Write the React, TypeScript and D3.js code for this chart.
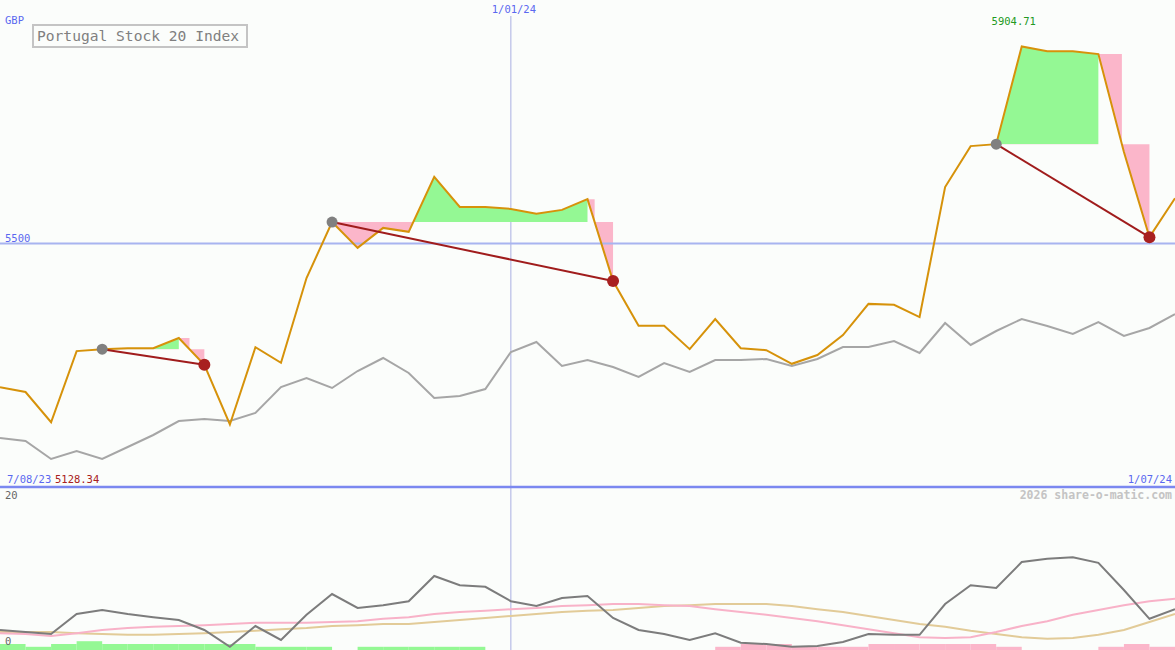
import React from "react";
import * as d3 from "d3";

// ---- data ----
const title = "Portugal Stock 20 Index";
const currency = "GBP";
const refLevel = 5500;
const dateTicks = ["7/08/23", "1/01/24", "1/07/24"];
const dateTickIndex = [0, 20, 46];
const lowerTicks = [20, 0];

const prices = [
  5205, 5195, 5133, 5279, 5283, 5285, 5285, 5306, 5251, 5128.34,
  5287, 5255, 5429, 5544, 5491, 5532, 5524, 5637, 5575, 5575,
  5571, 5561, 5569, 5591, 5423, 5331, 5331, 5283, 5345, 5285,
  5281, 5253, 5271, 5312, 5376, 5374, 5349, 5616, 5700, 5704,
  5904.71, 5895, 5895, 5889, 5688, 5513, 5593,
];

const comparison = [
  5100.6, 5094.5, 5057.5, 5073.9, 5057.5, 5082.1, 5106.8, 5135.5, 5139.6, 5135.5,
  5152.0, 5205.3, 5223.8, 5203.3, 5238.2, 5264.9, 5234.1, 5182.8, 5186.9, 5201.2,
  5277.2, 5297.7, 5248.5, 5260.8, 5246.4, 5225.9, 5254.6, 5236.1, 5260.8, 5260.8,
  5262.8, 5248.5, 5262.8, 5287.5, 5287.5, 5299.8, 5275.2, 5336.8, 5291.6, 5320.3,
  5345.0, 5330.6, 5314.2, 5338.8, 5310.1, 5326.5, 5355.2,
];

const periodStart = [4, 13, 39];
const periodEnd = [8, 24, 45];

const volatility = [
  2.5, 2.25, 2.0, 4.5, 5.0, 4.5, 4.1, 3.75, 2.5, 0.4,
  3.0, 1.25, 4.4, 7.0, 5.25, 5.6, 6.1, 9.25, 8.1, 7.9,
  6.1, 5.5, 6.5, 6.75, 4.0, 2.5, 2.0, 1.25, 2.1, 0.9,
  0.75, 0.4, 0.5, 1.0, 2.0, 1.9, 1.9, 5.75, 8.1, 7.75,
  11.0, 11.4, 11.6, 10.9, 7.5, 3.9, 5.1,
];

const avgPink = [
  2.1, 2.0, 1.75, 2.1, 2.5, 2.75, 2.9, 3.0, 3.1, 3.25,
  3.4, 3.4, 3.4, 3.5, 3.6, 3.9, 4.1, 4.5, 4.75, 4.9,
  5.1, 5.25, 5.5, 5.6, 5.75, 5.75, 5.6, 5.5, 5.1, 4.75,
  4.4, 4.0, 3.6, 3.1, 2.6, 2.1, 1.6, 1.5, 1.6, 2.25,
  3.0, 3.6, 4.4, 5.0, 5.6, 6.1, 6.4,
];

const avgTan = [
  2.25, 2.25, 2.25, 2.1, 2.0, 1.9, 1.9, 2.0, 2.1, 2.25,
  2.4, 2.6, 2.75, 3.0, 3.1, 3.25, 3.25, 3.5, 3.75, 4.0,
  4.25, 4.5, 4.75, 4.9, 5.0, 5.25, 5.5, 5.6, 5.75, 5.75,
  5.75, 5.5, 5.1, 4.75, 4.25, 3.75, 3.25, 2.9, 2.4, 2.0,
  1.6, 1.4, 1.5, 1.9, 2.5, 3.5, 4.5,
];

// per-week bars: positive = green, negative = pink
const weeklyBars = [
  0.75, 0.4, 0.75, 1.1, 0.75, 0.75, 0.75, 0.75, 0.75, 0.75,
  0.4, 0.4, 0.4, 0, 0.4, 0.4, 0.4, 0.4, 0.4, 0,
  0, 0, 0, 0, 0, 0, 0, 0, -0.4, -0.75,
  -0.75, -0.4, -0.4, -0.4, -0.75, -0.75, -0.75, -0.75, -0.75, -0.4,
  0, 0, 0, -0.4, -0.75, -0.4,
];

const W = 1175;
const H = 650;
const MONO = "'DejaVu Sans Mono', 'Liberation Mono', monospace";

export default function App() {
  const n = prices.length;
  const x = d3.scaleLinear().domain([0, n - 1]).range([0, W]);
  const y = d3.scaleLinear().domain([5000, 6000]).range([487, 0]);
  const yL = d3.scaleLinear().domain([0, 20]).range([650, 490]);

  const mainLine = d3
    .line<number>()
    .x((_, i) => x(i))
    .y((d) => y(d));
  const lowLine = d3
    .line<number>()
    .x((_, i) => x(i))
    .y((d) => yL(d));
  const ptLine = d3
    .line<[number, number]>()
    .x((d) => x(d[0]))
    .y((d) => y(d[1]));

  const maxVal = d3.max(prices) as number;
  const maxIdx = prices.indexOf(maxVal);
  const minVal = d3.min(prices) as number;

  const periods = periodStart.map((g, k) => {
    const r = periodEnd[k];
    const base = prices[g];
    let h = g;
    for (let i = g; i < r; i++) if (prices[i] >= base) h = i;
    const pts: [number, number][] = d3.range(g, h + 1).map((i) => [i, prices[i]]);
    const area = d3
      .area<[number, number]>()
      .x((d) => x(d[0]))
      .y0(y(base))
      .y1((d) => y(d[1]));
    const vh = prices[h];
    const vn = prices[h + 1];
    const t = (vh - base) / (vh - vn);
    const c = h + t;
    const poly: [number, number][] = [[h, vh], [c, base]];
    for (let i = h + 1; i <= r; i++) poly.push([i, prices[i]]);
    poly.push([r, base], [c, base], [c, vh]);
    return { g, r, base, areaPath: area(pts) as string, declinePath: (ptLine(poly) as string) + "Z" };
  });

  const yRef = y(refLevel);

  return (
    <svg
      width={W}
      height={H}
      style={{ position: "absolute", left: 0, top: 0, display: "block" }}
    >
      <defs>
        {periods.map((p, k) => (
          <React.Fragment key={k}>
            <clipPath id={`above${k}`}>
              <rect x={0} y={0} width={W} height={y(p.base)} />
            </clipPath>
            <clipPath id={`below${k}`}>
              <rect x={0} y={y(p.base)} width={W} height={H} />
            </clipPath>
          </React.Fragment>
        ))}
      </defs>
      <rect x={0} y={0} width={W} height={H} fill="#fbfdfb" />

      {/* date vertical line */}
      <line x1={x(dateTickIndex[1])} x2={x(dateTickIndex[1])} y1={16} y2={H} stroke="#a9b0e2" strokeWidth={1} />

      {/* fills */}
      {periods.map((p, k) => (
        <g key={k}>
          <path d={p.areaPath} fill="#94f894" clipPath={`url(#above${k})`} />
          <path d={p.areaPath} fill="#fbb6ca" clipPath={`url(#below${k})`} />
          <path d={p.declinePath} fill="#fbb6ca" />
        </g>
      ))}

      {/* reference level */}
      <line x1={0} x2={W} y1={yRef} y2={yRef} stroke="#a8b4f0" strokeWidth={2} />

      {/* series */}
      <path d={mainLine(comparison) as string} fill="none" stroke="#a6a6a6" strokeWidth={2} />
      <path d={mainLine(prices) as string} fill="none" stroke="#d6920a" strokeWidth={2} />

      {periods.map((p, k) => (
        <g key={k}>
          <line
            x1={x(p.g)}
            y1={y(prices[p.g])}
            x2={x(p.r)}
            y2={y(prices[p.r])}
            stroke="#a01c1c"
            strokeWidth={2}
          />
          <circle cx={x(p.g)} cy={y(prices[p.g])} r={5.5} fill="#808080" />
          <circle cx={x(p.r)} cy={y(prices[p.r])} r={6} fill="#a82020" />
        </g>
      ))}

      {/* axis bottom line */}
      <line x1={0} x2={W} y1={487} y2={487} stroke="#7b88f0" strokeWidth={2.5} />

      {/* lower panel */}
      {weeklyBars.map((v, i) =>
        v === 0 ? null : (
          <rect
            key={i}
            x={x(i)}
            width={x(i + 1) - x(i)}
            y={yL(Math.abs(v))}
            height={yL(0) - yL(Math.abs(v))}
            fill={v > 0 ? "#94f894" : "#fbb6ca"}
          />
        )
      )}
      <path d={lowLine(avgTan) as string} fill="none" stroke="#e2cb98" strokeWidth={2} />
      <path d={lowLine(avgPink) as string} fill="none" stroke="#f8b2c8" strokeWidth={2} />
      <path d={lowLine(volatility) as string} fill="none" stroke="#7c7c7c" strokeWidth={2} />

      {/* texts */}
      <g fontFamily={MONO}>
        <text x={5} y={24} fontSize={10.5} fill="#5a68f0">{currency}</text>
        <rect x={33} y={25} width={214} height={22} fill="#fbfdfb" stroke="#c4c4c4" strokeWidth={2} />
        <text x={37} y={41} fontSize={14.6} fill="#808080">{title}</text>
        <text x={x(dateTickIndex[1]) + 3} y={13} fontSize={10.5} fill="#5a68f0" textAnchor="middle">
          {dateTicks[1]}
        </text>
        <text x={x(maxIdx) - 8} y={25} fontSize={10.5} fill="#229922" textAnchor="middle">
          {maxVal.toFixed(2)}
        </text>
        <text x={5} y={yRef - 2} fontSize={10.5} fill="#5a68f0">{refLevel}</text>
        <text x={7} y={483} fontSize={10.5} fill="#5a68f0">{dateTicks[0]}</text>
        <text x={55} y={483} fontSize={10.5} fill="#a82020">{minVal.toFixed(2)}</text>
        <text x={1172} y={483} fontSize={10.5} fill="#5a68f0" textAnchor="end">{dateTicks[2]}</text>
        <text x={1172} y={499} fontSize={11.5} fontWeight="bold" fill="#c4c4c4" textAnchor="end">
          2026 share-o-matic.com
        </text>
        <text x={5} y={499} fontSize={10.5} fill="#666666">{lowerTicks[0]}</text>
        <text x={5} y={645} fontSize={10.5} fill="#666666">{lowerTicks[1]}</text>
      </g>
    </svg>
  );
}
